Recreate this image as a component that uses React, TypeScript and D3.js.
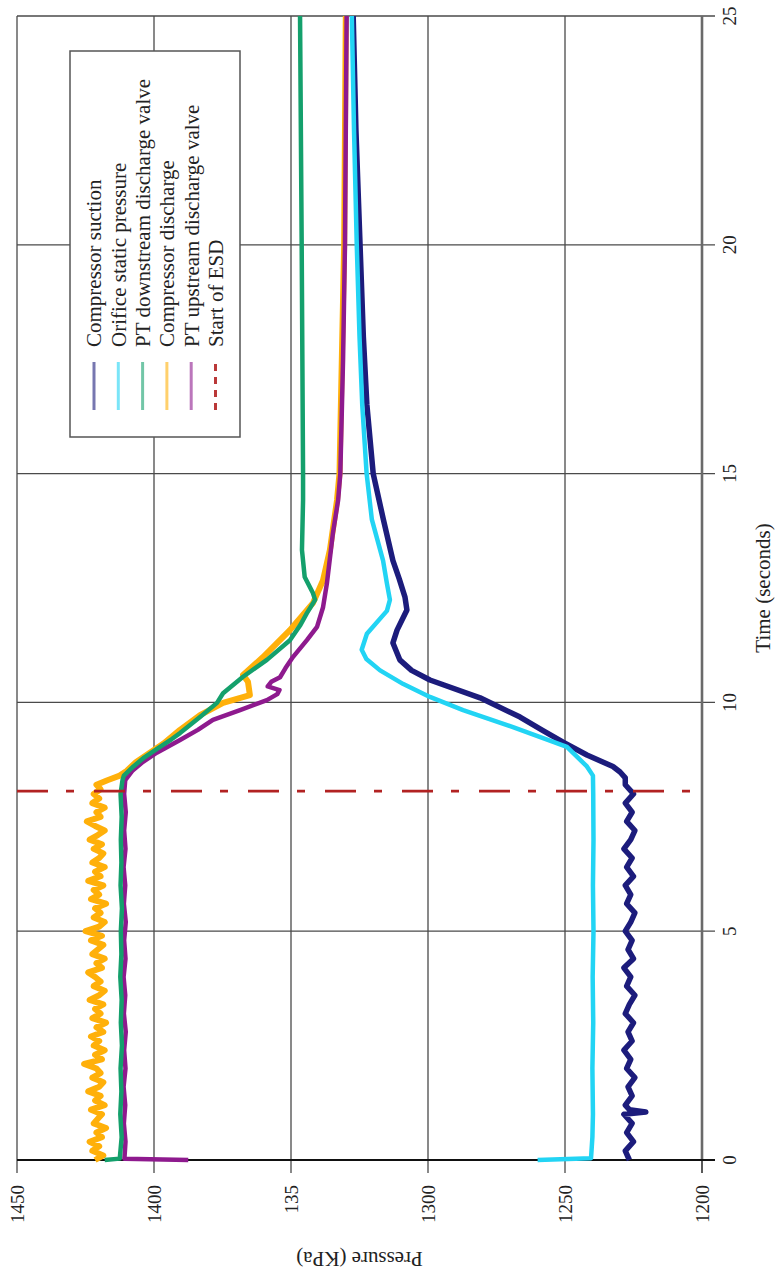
import React, { useEffect, useRef } from "react";
import * as d3 from "d3";

type Pt = [number, number];

// the source figure is a time/pressure chart turned a quarter turn to the left
const TIME_TICKS = [0, 5, 10, 15, 20, 25];
const PRESSURE_TICKS = [1450, 1400, 1350, 1300, 1250, 1200];
const PRESSURE_LABELS = ["1450", "1400", "135", "1300", "1250", "1200"];
const ESD_TIME = 8.06;

const suction: Pt[] = [
  [0.0, 1226.5], [0.2, 1228.0], [0.4, 1225.0], [0.6, 1227.5], [0.8, 1225.5], [1.0, 1228.5],
  [1.05, 1220.5], [1.1, 1226.5], [1.2, 1228.0], [1.4, 1225.5], [1.6, 1227.0], [1.8, 1224.5],
  [2.0, 1227.5], [2.2, 1226.0], [2.4, 1228.5], [2.6, 1225.5], [2.8, 1227.0], [3.0, 1225.0],
  [3.2, 1228.0], [3.4, 1226.5], [3.6, 1224.5], [3.8, 1227.5], [4.0, 1226.0], [4.2, 1228.5],
  [4.4, 1225.0], [4.6, 1227.0], [4.8, 1225.5], [5.0, 1228.0], [5.2, 1226.0], [5.4, 1224.5],
  [5.6, 1227.5], [5.8, 1226.0], [6.0, 1228.0], [6.2, 1225.0], [6.4, 1227.5], [6.6, 1225.5],
  [6.8, 1228.5], [7.0, 1226.0], [7.2, 1224.5], [7.4, 1227.5], [7.6, 1225.5], [7.8, 1228.0],
  [8.0, 1225.0], [8.2, 1228.0], [8.35, 1228.0], [8.48, 1229.9], [8.6, 1232.5], [8.85, 1242.0],
  [9.13, 1250.7], [9.4, 1258.5], [9.68, 1266.4], [10.1, 1281.0], [10.49, 1299.3], [10.7, 1306.0],
  [10.93, 1310.3], [11.3, 1312.8], [11.58, 1311.3], [12.02, 1307.7], [12.3, 1308.4], [12.7, 1310.5],
  [13.1, 1312.8], [14.0, 1316.3], [15.0, 1320.0], [16.5, 1322.3], [18.0, 1323.6], [20.0, 1324.8],
  [22.5, 1326.3], [25.0, 1327.3]
];

const orifice: Pt[] = [
  [0.0, 1260.0], [0.04, 1240.5], [0.5, 1240.0], [1.0, 1239.8], [2.0, 1240.0], [3.0, 1239.7],
  [4.0, 1239.9], [5.0, 1239.6], [6.0, 1239.8], [7.0, 1239.6], [8.0, 1239.7], [8.4, 1239.8],
  [8.6, 1242.0], [9.03, 1249.3], [9.46, 1269.0], [9.83, 1287.2], [10.12, 1299.3], [10.4, 1309.0],
  [10.7, 1317.5], [10.95, 1322.5], [11.15, 1324.2], [11.5, 1322.3], [12.0, 1315.0], [12.24, 1313.9],
  [12.6, 1315.0], [13.1, 1316.4], [14.0, 1320.5], [15.0, 1322.4], [16.5, 1324.0], [18.0, 1325.0],
  [20.0, 1326.0], [22.5, 1327.0], [25.0, 1327.8]
];

const downstream: Pt[] = [
  [0.0, 1418.0], [0.03, 1412.5], [0.5, 1411.8], [1.0, 1412.3], [1.5, 1411.9], [2.0, 1412.2],
  [2.5, 1411.7], [3.0, 1412.1], [3.5, 1411.8], [4.0, 1412.3], [4.5, 1411.9], [5.0, 1412.1],
  [5.5, 1411.7], [6.0, 1412.2], [6.5, 1411.9], [7.0, 1412.1], [7.5, 1411.8], [8.0, 1412.2],
  [8.3, 1411.5], [8.4, 1411.0], [8.6, 1407.5], [8.8, 1403.5], [9.0, 1398.5], [9.2, 1393.5],
  [9.33, 1390.5], [9.68, 1383.2], [9.99, 1377.0], [10.2, 1374.8], [10.56, 1367.5], [10.93, 1358.8],
  [11.36, 1350.4], [11.7, 1346.5], [11.95, 1344.2], [12.24, 1341.2], [12.39, 1342.0], [12.74, 1345.0],
  [13.33, 1346.0], [14.42, 1345.6], [15.0, 1345.6], [20.0, 1346.1], [25.0, 1346.7]
];

const discharge: Pt[] = [
  [0.0, 1421.5], [0.1, 1418.5], [0.2, 1422.5], [0.3, 1420.0], [0.4, 1423.5], [0.5, 1419.0],
  [0.6, 1421.0], [0.7, 1417.5], [0.8, 1422.0], [0.9, 1420.5], [1.0, 1419.0], [1.1, 1423.0],
  [1.2, 1418.0], [1.3, 1421.5], [1.4, 1419.5], [1.5, 1424.0], [1.6, 1420.0], [1.7, 1418.5],
  [1.8, 1422.5], [1.9, 1419.5], [2.0, 1421.0], [2.1, 1425.5], [2.2, 1419.0], [2.3, 1421.5],
  [2.4, 1418.0], [2.5, 1422.0], [2.6, 1420.0], [2.7, 1423.0], [2.8, 1418.5], [2.9, 1421.0],
  [3.0, 1417.5], [3.1, 1422.5], [3.2, 1419.5], [3.3, 1421.5], [3.4, 1418.5], [3.5, 1423.5],
  [3.6, 1420.0], [3.7, 1418.0], [3.8, 1422.0], [3.9, 1419.5], [4.0, 1421.5], [4.1, 1424.0],
  [4.2, 1419.0], [4.3, 1421.0], [4.4, 1418.0], [4.5, 1422.5], [4.6, 1420.5], [4.7, 1418.5],
  [4.8, 1423.0], [4.9, 1419.0], [5.0, 1425.0], [5.1, 1420.0], [5.2, 1418.0], [5.3, 1422.0],
  [5.4, 1419.5], [5.5, 1421.5], [5.6, 1417.5], [5.7, 1423.0], [5.8, 1420.0], [5.9, 1422.0],
  [6.0, 1418.5], [6.1, 1424.0], [6.2, 1419.5], [6.3, 1421.5], [6.4, 1418.0], [6.5, 1422.5],
  [6.6, 1420.0], [6.7, 1418.5], [6.8, 1422.0], [6.9, 1419.0], [7.0, 1423.5], [7.1, 1420.5],
  [7.2, 1418.0], [7.3, 1421.5], [7.4, 1424.5], [7.5, 1419.5], [7.6, 1421.0], [7.7, 1418.0],
  [7.8, 1422.5], [7.9, 1420.0], [8.0, 1422.0], [8.1, 1419.5], [8.2, 1421.0], [8.3, 1417.0],
  [8.4, 1412.5], [8.5, 1410.0], [8.7, 1406.5], [8.9, 1401.5], [9.1, 1396.5], [9.4, 1390.5],
  [9.72, 1383.2], [9.99, 1374.8], [10.16, 1365.0], [10.45, 1365.7], [10.6, 1367.5], [10.99, 1360.2],
  [11.58, 1350.4], [12.17, 1342.0], [12.67, 1338.3], [13.33, 1335.8], [14.42, 1333.2], [15.0, 1332.3],
  [20.0, 1330.6], [25.0, 1330.0]
];

const upstream: Pt[] = [
  [0.0, 1387.5], [0.03, 1410.8], [0.4, 1410.4], [0.8, 1411.0], [1.2, 1410.5], [1.6, 1411.1],
  [2.0, 1410.4], [2.4, 1410.9], [2.8, 1410.3], [3.2, 1411.0], [3.6, 1410.5], [4.0, 1411.1],
  [4.4, 1410.4], [4.8, 1410.9], [5.2, 1410.3], [5.6, 1411.0], [6.0, 1410.5], [6.4, 1411.1],
  [6.8, 1410.4], [7.2, 1410.9], [7.6, 1410.3], [8.0, 1410.9], [8.3, 1410.5], [8.5, 1408.0],
  [8.7, 1404.0], [8.9, 1399.0], [9.18, 1390.5], [9.4, 1384.0], [9.62, 1378.5], [9.83, 1368.6],
  [10.05, 1358.8], [10.18, 1355.0], [10.27, 1354.2], [10.35, 1358.5], [10.45, 1357.2], [10.55, 1354.0],
  [10.75, 1352.0], [10.99, 1349.3], [11.36, 1344.2], [11.65, 1340.5], [12.08, 1338.3], [12.6, 1336.9],
  [13.7, 1334.7], [14.42, 1332.8], [15.0, 1332.0], [17.5, 1331.0], [20.0, 1330.3], [25.0, 1329.7]
];

const SERIES = [
  { name: "Compressor suction", data: suction, color: "#1c1c7c", width: 5.5 },
  { name: "Orifice static pressure", data: orifice, color: "#22d4f4", width: 4.5 },
  { name: "PT downstream discharge valve", data: downstream, color: "#14a06c", width: 4.5 },
  { name: "Compressor discharge", data: discharge, color: "#ffb00a", width: 6 },
  { name: "PT upstream discharge valve", data: upstream, color: "#8e1a8e", width: 4.5 }
];
// stacking order of the curves on the page (legend keeps SERIES order)
const DRAW_ORDER = [0, 1, 3, 4, 2];
const ESD_LABEL = "Start of ESD";
const ESD_COLOR = "#b22222";

const W = 1144;
const H = 685;
const FONT = "'Liberation Serif', 'Times New Roman', serif";

const App = () => {
  const ref = useRef<SVGSVGElement>(null);

  useEffect(() => {
    const svg = d3.select(ref.current);
    svg.selectAll("*").remove();

    const x = d3.scaleLinear().domain([0, 25]).range([0, W]);
    const y = d3.scaleLinear().domain([1200, 1450]).range([H, 0]);

    const g = svg.append("g").attr("transform", "translate(17,1160) rotate(-90)");

    // grid lines
    g.selectAll(".hgrid")
      .data(PRESSURE_TICKS.filter((d) => d !== 1200))
      .enter()
      .append("line")
      .attr("x1", -13)
      .attr("x2", W)
      .attr("y1", (d) => y(d))
      .attr("y2", (d) => y(d))
      .attr("stroke", "#4a4a4a")
      .attr("stroke-width", 1.3);

    g.selectAll(".vgrid")
      .data(TIME_TICKS.filter((d) => d !== 0))
      .enter()
      .append("line")
      .attr("x1", (d) => x(d))
      .attr("x2", (d) => x(d))
      .attr("y1", 0)
      .attr("y2", H + 13)
      .attr("stroke", "#4a4a4a")
      .attr("stroke-width", 1.3);

    // pressure 1200 line
    g.append("line")
      .attr("x1", 0).attr("x2", W)
      .attr("y1", y(1200)).attr("y2", y(1200))
      .attr("stroke", "#6a6a6a").attr("stroke-width", 2.6);
    g.append("line")
      .attr("x1", -13).attr("x2", 0)
      .attr("y1", y(1200)).attr("y2", y(1200))
      .attr("stroke", "#222").attr("stroke-width", 1.5);

    // time 0 axis
    g.append("line")
      .attr("x1", x(0)).attr("x2", x(0))
      .attr("y1", 0).attr("y2", H + 13)
      .attr("stroke", "#111").attr("stroke-width", 2.2);

    // tick labels
    g.selectAll(".plab")
      .data(PRESSURE_TICKS)
      .enter()
      .append("text")
      .attr("x", -25)
      .attr("y", (d) => y(d))
      .attr("dy", "0.35em")
      .attr("text-anchor", "end")
      .attr("font-family", FONT)
      .attr("font-size", 19)
      .attr("fill", "#222")
      .text((d, i) => PRESSURE_LABELS[i]);

    g.selectAll(".tlab")
      .data(TIME_TICKS)
      .enter()
      .append("text")
      .attr("x", (d) => x(d))
      .attr("y", 719)
      .attr("text-anchor", "middle")
      .attr("font-family", FONT)
      .attr("font-size", 19)
      .attr("fill", "#222")
      .text((d) => d);

    g.append("text")
      .attr("x", W / 2)
      .attr("y", 753)
      .attr("text-anchor", "middle")
      .attr("font-family", FONT)
      .attr("font-size", 21)
      .attr("fill", "#222")
      .text("Time (seconds)");

    g.append("text")
      .attr("transform", `translate(-92,${H / 2}) rotate(-90)`)
      .attr("text-anchor", "middle")
      .attr("font-family", FONT)
      .attr("font-size", 21)
      .attr("fill", "#222")
      .text("Pressure (KPa)");

    // series
    const line = d3
      .line<Pt>()
      .x((d) => x(d[0]))
      .y((d) => y(d[1]));

    DRAW_ORDER.forEach((k) => {
      const s = SERIES[k];
      g.append("path")
        .datum(s.data)
        .attr("d", line)
        .attr("fill", "none")
        .attr("stroke", s.color)
        .attr("stroke-width", s.width)
        .attr("stroke-linejoin", "round");
    });

    g.append("line")
      .attr("x1", x(ESD_TIME)).attr("x2", x(ESD_TIME))
      .attr("y1", y(1450)).attr("y2", y(1200))
      .attr("stroke", ESD_COLOR)
      .attr("stroke-width", 2.6)
      .attr("stroke-dasharray", "31,18,8,20");

    // legend
    const lg = g.append("g");
    lg.append("rect")
      .attr("x", 723).attr("y", 53)
      .attr("width", 386).attr("height", 170)
      .attr("fill", "#fff")
      .attr("stroke", "#555")
      .attr("stroke-width", 1.5);

    const items = [
      ...SERIES.map((s) => ({ name: s.name, color: s.color, dash: null as string | null })),
      { name: ESD_LABEL, color: ESD_COLOR, dash: "7,6" }
    ];
    items.forEach((it, i) => {
      const yy = 77 + i * 24.3;
      lg.append("line")
        .attr("x1", 750).attr("x2", 798)
        .attr("y1", yy).attr("y2", yy)
        .attr("stroke", it.color)
        .attr("stroke-opacity", it.dash ? 0.9 : 0.6)
        .attr("stroke-width", 3)
        .attr("stroke-dasharray", it.dash);
      lg.append("text")
        .attr("x", 813)
        .attr("y", yy)
        .attr("dy", "0.35em")
        .attr("font-family", FONT)
        .attr("font-size", 21)
        .attr("fill", "#222")
        .text(it.name);
    });
  }, []);

  return (
    <svg
      ref={ref}
      width={778}
      height={1274}
      style={{ position: "absolute", left: 0, top: 0, background: "#fff" }}
    ></svg>
  );
};

export default App;
